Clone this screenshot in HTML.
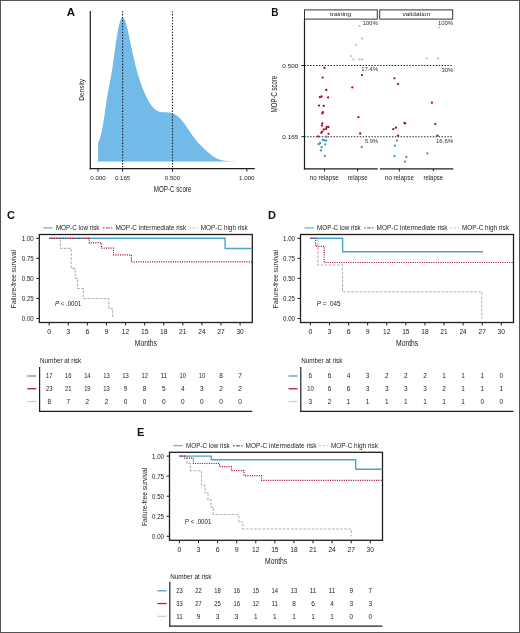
<!DOCTYPE html>
<html><head><meta charset="utf-8"><style>
html,body{margin:0;padding:0;background:#fff;}
body{width:520px;height:633px;overflow:hidden;position:relative;}
#frame{position:absolute;left:0;top:0;width:520px;height:633px;box-sizing:border-box;border:1px solid #545454;}
svg{display:block;font-family:"Liberation Sans", sans-serif;will-change:transform;filter:blur(0.35px);}
</style></head><body>
<svg width="520" height="633" viewBox="0 0 520 633">
<rect width="520" height="633" fill="#fff"/>
<text x="66.70" y="15.80" font-size="11" text-anchor="start" font-weight="bold" fill="#111" textLength="8.30" lengthAdjust="spacingAndGlyphs">A</text>
<path d="M98.1,161.5 L98.10,143.20 L98.60,141.99 L99.10,140.69 L99.60,139.26 L100.10,137.70 L100.60,135.97 L101.10,134.04 L101.60,131.91 L102.10,129.53 L102.60,126.92 L103.10,124.06 L103.60,120.97 L104.10,117.69 L104.60,114.27 L105.10,110.77 L105.60,107.27 L106.10,103.82 L106.60,100.49 L107.10,97.33 L107.60,94.34 L108.10,91.53 L108.60,88.86 L109.10,86.29 L109.60,83.75 L110.10,81.17 L110.60,78.51 L111.10,75.71 L111.60,72.75 L112.10,69.62 L112.60,66.32 L113.10,62.88 L113.60,59.33 L114.10,55.71 L114.60,52.07 L115.10,48.45 L115.60,44.89 L116.10,41.44 L116.60,38.13 L117.10,34.99 L117.60,32.05 L118.10,29.33 L118.60,26.86 L119.10,24.66 L119.60,22.73 L120.10,21.09 L120.60,19.75 L121.10,18.72 L121.60,17.98 L122.10,17.55 L122.60,17.42 L123.10,17.58 L123.60,18.02 L124.10,18.72 L124.60,19.67 L125.10,20.86 L125.60,22.26 L126.10,23.86 L126.60,25.63 L127.10,27.55 L127.60,29.60 L128.10,31.76 L128.60,34.01 L129.10,36.32 L129.60,38.69 L130.10,41.08 L130.60,43.49 L131.10,45.90 L131.60,48.29 L132.10,50.66 L132.60,52.99 L133.10,55.28 L133.60,57.52 L134.10,59.71 L134.60,61.84 L135.10,63.90 L135.60,65.90 L136.10,67.84 L136.60,69.72 L137.10,71.54 L137.60,73.29 L138.10,75.00 L138.60,76.64 L139.10,78.23 L139.60,79.78 L140.10,81.27 L140.60,82.73 L141.10,84.14 L141.60,85.51 L142.10,86.84 L142.60,88.14 L143.10,89.40 L143.60,90.62 L144.10,91.82 L144.60,92.98 L145.10,94.11 L145.60,95.20 L146.10,96.27 L146.60,97.30 L147.10,98.30 L147.60,99.26 L148.10,100.19 L148.60,101.09 L149.10,101.95 L149.60,102.78 L150.10,103.57 L150.60,104.32 L151.10,105.04 L151.60,105.72 L152.10,106.36 L152.60,106.97 L153.10,107.54 L153.60,108.07 L154.10,108.56 L154.60,109.02 L155.10,109.44 L155.60,109.83 L156.10,110.19 L156.60,110.51 L157.10,110.79 L157.60,111.05 L158.10,111.28 L158.60,111.48 L159.10,111.66 L159.60,111.81 L160.10,111.93 L160.60,112.04 L161.10,112.12 L161.60,112.19 L162.10,112.24 L162.60,112.28 L163.10,112.31 L163.60,112.33 L164.10,112.34 L164.60,112.35 L165.10,112.35 L165.60,112.35 L166.10,112.35 L166.60,112.35 L167.10,112.36 L167.60,112.38 L168.10,112.40 L168.60,112.43 L169.10,112.48 L169.60,112.54 L170.10,112.61 L170.60,112.70 L171.10,112.80 L171.60,112.93 L172.10,113.07 L172.60,113.23 L173.10,113.42 L173.60,113.63 L174.10,113.86 L174.60,114.11 L175.10,114.39 L175.60,114.69 L176.10,115.02 L176.60,115.37 L177.10,115.75 L177.60,116.15 L178.10,116.58 L178.60,117.03 L179.10,117.50 L179.60,118.00 L180.10,118.52 L180.60,119.06 L181.10,119.63 L181.60,120.21 L182.10,120.82 L182.60,121.44 L183.10,122.08 L183.60,122.73 L184.10,123.40 L184.60,124.09 L185.10,124.79 L185.60,125.49 L186.10,126.21 L186.60,126.94 L187.10,127.67 L187.60,128.40 L188.10,129.14 L188.60,129.88 L189.10,130.62 L189.60,131.36 L190.10,132.10 L190.60,132.83 L191.10,133.56 L191.60,134.28 L192.10,134.99 L192.60,135.69 L193.10,136.38 L193.60,137.06 L194.10,137.73 L194.60,138.39 L195.10,139.03 L195.60,139.66 L196.10,140.27 L196.60,140.88 L197.10,141.46 L197.60,142.04 L198.10,142.60 L198.60,143.16 L199.10,143.70 L199.60,144.23 L200.10,144.75 L200.60,145.26 L201.10,145.76 L201.60,146.26 L202.10,146.75 L202.60,147.23 L203.10,147.71 L203.60,148.19 L204.10,148.66 L204.60,149.13 L205.10,149.60 L205.60,150.06 L206.10,150.52 L206.60,150.98 L207.10,151.44 L207.60,151.89 L208.10,152.33 L208.60,152.77 L209.10,153.20 L209.60,153.63 L210.10,154.05 L210.60,154.46 L211.10,154.86 L211.60,155.25 L212.10,155.62 L212.60,155.99 L213.10,156.34 L213.60,156.68 L214.10,157.01 L214.60,157.32 L215.10,157.61 L215.60,157.89 L216.10,158.16 L216.60,158.41 L217.10,158.65 L217.60,158.87 L218.10,159.08 L218.60,159.27 L219.10,159.45 L219.60,159.62 L220.10,159.78 L220.60,159.92 L221.10,160.06 L221.60,160.18 L222.10,160.29 L222.60,160.40 L223.10,160.49 L223.60,160.58 L224.10,160.66 L224.60,160.73 L225.10,160.80 L225.60,160.86 L226.10,160.92 L226.60,160.97 L227.10,161.02 L227.60,161.06 L228.10,161.10 L228.60,161.13 L229.10,161.17 L229.60,161.20 L230.10,161.22 L230.60,161.25 L231.10,161.27 L231.60,161.29 L232.10,161.31 L232.60,161.33 L233.10,161.34 L233.60,161.36 L234.10,161.37 L234.60,161.38 L235.10,161.40 L235.60,161.40 L236.10,161.41 L236.60,161.42 L237.10,161.43 L237.60,161.44 L238.10,161.44 L238.60,161.45 L239.10,161.45 L239.60,161.46 L240.10,161.46 L240.60,161.47 L241.10,161.47 L241.60,161.47 L242.10,161.48 L242.60,161.48 L243.10,161.48 L243.60,161.48 L244.10,161.48 L244.60,161.49 L245.10,161.49 L245.60,161.49 L246.10,161.49 L246.60,161.49 L247.10,161.49 L247.30,161.49 L247.3,161.5 Z" fill="#72bae8" stroke="none"/>
<line x1="122.60" y1="11.20" x2="122.60" y2="168.00" stroke="#1a1a1a" stroke-width="1.1" stroke-dasharray="1.4 1.52"/>
<line x1="172.50" y1="11.20" x2="172.50" y2="168.00" stroke="#1a1a1a" stroke-width="1.1" stroke-dasharray="1.4 1.52"/>
<line x1="90.30" y1="11.00" x2="90.30" y2="169.30" stroke="#1e1e1e" stroke-width="1.2"/>
<line x1="89.70" y1="168.70" x2="254.80" y2="168.70" stroke="#1e1e1e" stroke-width="1.2"/>
<line x1="98.00" y1="168.70" x2="98.00" y2="171.70" stroke="#1e1e1e" stroke-width="1"/>
<text x="98.00" y="180.30" font-size="6.1" text-anchor="middle" font-weight="normal" fill="#222" textLength="15.40" lengthAdjust="spacingAndGlyphs">0.000</text>
<line x1="122.60" y1="168.70" x2="122.60" y2="171.70" stroke="#1e1e1e" stroke-width="1"/>
<text x="122.60" y="180.30" font-size="6.1" text-anchor="middle" font-weight="normal" fill="#222" textLength="15.40" lengthAdjust="spacingAndGlyphs">0.165</text>
<line x1="172.50" y1="168.70" x2="172.50" y2="171.70" stroke="#1e1e1e" stroke-width="1"/>
<text x="172.50" y="180.30" font-size="6.1" text-anchor="middle" font-weight="normal" fill="#222" textLength="15.40" lengthAdjust="spacingAndGlyphs">0.500</text>
<line x1="246.80" y1="168.70" x2="246.80" y2="171.70" stroke="#1e1e1e" stroke-width="1"/>
<text x="246.80" y="180.30" font-size="6.1" text-anchor="middle" font-weight="normal" fill="#222" textLength="15.40" lengthAdjust="spacingAndGlyphs">1.000</text>
<text x="172.60" y="192.00" font-size="8.2" text-anchor="middle" font-weight="normal" fill="#222" textLength="37.60" lengthAdjust="spacingAndGlyphs">MOP-C score</text>
<text x="83.90" y="89.90" font-size="7.3" text-anchor="middle" font-weight="normal" fill="#222" textLength="21.80" lengthAdjust="spacingAndGlyphs" transform="rotate(-90 83.90 89.90)">Density</text>
<text x="271.20" y="15.90" font-size="11" text-anchor="start" font-weight="bold" fill="#111" textLength="7.20" lengthAdjust="spacingAndGlyphs">B</text>
<rect x="304.5" y="9.9" width="72.8" height="9.2" fill="#fff" stroke="#333" stroke-width="1"/>
<rect x="379.7" y="9.9" width="73" height="9.2" fill="#fff" stroke="#333" stroke-width="1"/>
<text x="340.60" y="16.30" font-size="6.2" text-anchor="middle" font-weight="normal" fill="#222" textLength="21.20" lengthAdjust="spacingAndGlyphs">training</text>
<text x="416.30" y="16.30" font-size="6.2" text-anchor="middle" font-weight="normal" fill="#222" textLength="27.70" lengthAdjust="spacingAndGlyphs">validation</text>
<line x1="304.50" y1="19.00" x2="304.50" y2="169.40" stroke="#1e1e1e" stroke-width="1.2"/>
<line x1="303.90" y1="168.80" x2="377.70" y2="168.80" stroke="#1e1e1e" stroke-width="1.2"/>
<line x1="379.90" y1="168.80" x2="453.30" y2="168.80" stroke="#1e1e1e" stroke-width="1.2"/>
<line x1="324.50" y1="168.80" x2="324.50" y2="171.40" stroke="#1e1e1e" stroke-width="1"/>
<line x1="357.60" y1="168.80" x2="357.60" y2="171.40" stroke="#1e1e1e" stroke-width="1"/>
<line x1="399.40" y1="168.80" x2="399.40" y2="171.40" stroke="#1e1e1e" stroke-width="1"/>
<line x1="433.30" y1="168.80" x2="433.30" y2="171.40" stroke="#1e1e1e" stroke-width="1"/>
<text x="324.30" y="180.30" font-size="6.6" text-anchor="middle" font-weight="normal" fill="#222" textLength="28.90" lengthAdjust="spacingAndGlyphs">no relapse</text>
<text x="357.70" y="180.30" font-size="6.6" text-anchor="middle" font-weight="normal" fill="#222" textLength="19.80" lengthAdjust="spacingAndGlyphs">relapse</text>
<text x="399.40" y="180.30" font-size="6.6" text-anchor="middle" font-weight="normal" fill="#222" textLength="28.90" lengthAdjust="spacingAndGlyphs">no relapse</text>
<text x="433.30" y="180.30" font-size="6.6" text-anchor="middle" font-weight="normal" fill="#222" textLength="19.80" lengthAdjust="spacingAndGlyphs">relapse</text>
<line x1="301.40" y1="65.50" x2="304.50" y2="65.50" stroke="#1e1e1e" stroke-width="1"/>
<text x="298.30" y="67.70" font-size="6.1" text-anchor="end" font-weight="normal" fill="#222" textLength="16.00" lengthAdjust="spacingAndGlyphs">0.500</text>
<line x1="304.30" y1="65.50" x2="453.30" y2="65.50" stroke="#1a1a1a" stroke-width="1.1" stroke-dasharray="1.4 1.52"/>
<line x1="301.40" y1="136.70" x2="304.50" y2="136.70" stroke="#1e1e1e" stroke-width="1"/>
<text x="298.30" y="138.90" font-size="6.1" text-anchor="end" font-weight="normal" fill="#222" textLength="16.00" lengthAdjust="spacingAndGlyphs">0.165</text>
<line x1="304.30" y1="136.70" x2="453.30" y2="136.70" stroke="#1a1a1a" stroke-width="1.1" stroke-dasharray="1.4 1.52"/>
<text x="277.10" y="94.00" font-size="8.2" text-anchor="middle" font-weight="normal" fill="#222" textLength="36.30" lengthAdjust="spacingAndGlyphs" transform="rotate(-90 277.10 94.00)">MOP-C score</text>
<text x="377.80" y="25.00" font-size="5.9" text-anchor="end" font-weight="normal" fill="#333" textLength="15.40" lengthAdjust="spacingAndGlyphs">100%</text>
<text x="377.90" y="71.40" font-size="5.9" text-anchor="end" font-weight="normal" fill="#333" textLength="16.70" lengthAdjust="spacingAndGlyphs">17.4%</text>
<text x="378.00" y="142.60" font-size="5.9" text-anchor="end" font-weight="normal" fill="#333" textLength="13.00" lengthAdjust="spacingAndGlyphs">5.9%</text>
<text x="453.10" y="25.00" font-size="5.9" text-anchor="end" font-weight="normal" fill="#333" textLength="15.20" lengthAdjust="spacingAndGlyphs">100%</text>
<text x="453.20" y="71.60" font-size="5.9" text-anchor="end" font-weight="normal" fill="#333" textLength="11.80" lengthAdjust="spacingAndGlyphs">30%</text>
<text x="453.20" y="143.00" font-size="5.9" text-anchor="end" font-weight="normal" fill="#333" textLength="17.20" lengthAdjust="spacingAndGlyphs">16.6%</text>
<circle cx="359.5" cy="25.8" r="1.15" fill="#c2c2c2"/>
<circle cx="362.1" cy="38.5" r="1.15" fill="#c2c2c2"/>
<circle cx="355.8" cy="44.9" r="1.15" fill="#c2c2c2"/>
<circle cx="351.2" cy="56.1" r="1.15" fill="#c2c2c2"/>
<circle cx="353.3" cy="59.4" r="1.15" fill="#c2c2c2"/>
<circle cx="359.5" cy="59.3" r="1.15" fill="#c2c2c2"/>
<circle cx="362.1" cy="59.4" r="1.15" fill="#c2c2c2"/>
<circle cx="439.1" cy="27.3" r="1.15" fill="#c2c2c2"/>
<circle cx="426.9" cy="58.3" r="1.15" fill="#c2c2c2"/>
<circle cx="438.1" cy="58.7" r="1.15" fill="#c2c2c2"/>
<circle cx="324.5" cy="67.9" r="1.15" fill="#9e1029"/>
<circle cx="322.7" cy="77.6" r="1.15" fill="#9e1029"/>
<circle cx="362" cy="75.1" r="1.15" fill="#9e1029"/>
<circle cx="352.3" cy="87.4" r="1.15" fill="#9e1029"/>
<circle cx="326.3" cy="90" r="1.15" fill="#9e1029"/>
<circle cx="319.9" cy="97.2" r="1.15" fill="#9e1029"/>
<circle cx="321.6" cy="96.5" r="1.15" fill="#9e1029"/>
<circle cx="328.1" cy="97.5" r="1.15" fill="#9e1029"/>
<circle cx="319" cy="105.6" r="1.15" fill="#9e1029"/>
<circle cx="323.8" cy="105.9" r="1.15" fill="#9e1029"/>
<circle cx="322.3" cy="113.4" r="1.15" fill="#9e1029"/>
<circle cx="323" cy="112.2" r="1.15" fill="#9e1029"/>
<circle cx="322.3" cy="123.4" r="1.15" fill="#9e1029"/>
<circle cx="322" cy="125.6" r="1.15" fill="#9e1029"/>
<circle cx="326.6" cy="127" r="1.15" fill="#9e1029"/>
<circle cx="328.4" cy="127" r="1.15" fill="#9e1029"/>
<circle cx="323.8" cy="129.5" r="1.15" fill="#9e1029"/>
<circle cx="326.2" cy="129" r="1.15" fill="#9e1029"/>
<circle cx="322.3" cy="131.6" r="1.15" fill="#9e1029"/>
<circle cx="321.3" cy="132.8" r="1.15" fill="#9e1029"/>
<circle cx="328.5" cy="133.8" r="1.15" fill="#9e1029"/>
<circle cx="318.3" cy="136.4" r="1.15" fill="#9e1029"/>
<circle cx="358.4" cy="117.2" r="1.15" fill="#9e1029"/>
<circle cx="360.2" cy="133.5" r="1.15" fill="#9e1029"/>
<circle cx="394.4" cy="78.3" r="1.15" fill="#9e1029"/>
<circle cx="398" cy="84.1" r="1.15" fill="#9e1029"/>
<circle cx="431.9" cy="102.7" r="1.15" fill="#9e1029"/>
<circle cx="393.3" cy="129.2" r="1.15" fill="#9e1029"/>
<circle cx="395.9" cy="127.7" r="1.15" fill="#9e1029"/>
<circle cx="404.5" cy="123" r="1.15" fill="#9e1029"/>
<circle cx="405.2" cy="123.4" r="1.15" fill="#9e1029"/>
<circle cx="398" cy="135.7" r="1.15" fill="#9e1029"/>
<circle cx="435.2" cy="124.1" r="1.15" fill="#9e1029"/>
<circle cx="437.4" cy="135.7" r="1.15" fill="#9e1029"/>
<circle cx="326.3" cy="136.7" r="1.15" fill="#3596c6"/>
<circle cx="323" cy="140" r="1.15" fill="#3596c6"/>
<circle cx="324.5" cy="140.3" r="1.15" fill="#3596c6"/>
<circle cx="326.3" cy="140.6" r="1.15" fill="#3596c6"/>
<circle cx="320.1" cy="142.9" r="1.15" fill="#3596c6"/>
<circle cx="318.7" cy="144.2" r="1.15" fill="#3596c6"/>
<circle cx="325.2" cy="144.3" r="1.15" fill="#3596c6"/>
<circle cx="321.6" cy="147.2" r="1.15" fill="#3596c6"/>
<circle cx="320.9" cy="150.4" r="1.15" fill="#3596c6"/>
<circle cx="324.8" cy="155.9" r="1.15" fill="#3596c6"/>
<circle cx="361.7" cy="146.9" r="1.15" fill="#3596c6"/>
<circle cx="397" cy="140.6" r="1.15" fill="#3596c6"/>
<circle cx="394.9" cy="145.6" r="1.15" fill="#3596c6"/>
<circle cx="394.4" cy="156.2" r="1.15" fill="#3596c6"/>
<circle cx="406.4" cy="156.9" r="1.15" fill="#3596c6"/>
<circle cx="405" cy="161.6" r="1.15" fill="#3596c6"/>
<circle cx="427.3" cy="153.3" r="1.15" fill="#3596c6"/>
<text x="6.90" y="218.50" font-size="11" text-anchor="start" font-weight="bold" fill="#111">C</text>
<line x1="43.30" y1="227.90" x2="52.40" y2="227.90" stroke="#4aa3cf" stroke-width="1.1"/>
<text x="55.90" y="230.00" font-size="6.5" text-anchor="start" font-weight="normal" fill="#222" textLength="43.60" lengthAdjust="spacingAndGlyphs">MOP-C low risk</text>
<line x1="102.80" y1="227.90" x2="112.40" y2="227.90" stroke="#b06a70" stroke-width="1.4" stroke-dasharray="1.9 1.2 4 1 1.5 5"/>
<text x="115.40" y="230.00" font-size="6.5" text-anchor="start" font-weight="normal" fill="#222" textLength="70.90" lengthAdjust="spacingAndGlyphs">MOP-C intermediate risk</text>
<line x1="188.40" y1="227.90" x2="198.00" y2="227.90" stroke="#d2d2cc" stroke-width="1.3" stroke-dasharray="2.7 1.3"/>
<text x="200.80" y="230.00" font-size="6.5" text-anchor="start" font-weight="normal" fill="#222" textLength="46.90" lengthAdjust="spacingAndGlyphs">MOP-C high risk</text>
<rect x="39.30" y="234.50" width="213.00" height="88.00" fill="none" stroke="#1e1e1e" stroke-width="1.3"/>
<line x1="36.30" y1="238.30" x2="39.30" y2="238.30" stroke="#1e1e1e" stroke-width="1"/>
<text x="33.80" y="240.80" font-size="6.8" text-anchor="end" font-weight="normal" fill="#222" textLength="12.00" lengthAdjust="spacingAndGlyphs">1.00</text>
<line x1="36.30" y1="258.35" x2="39.30" y2="258.35" stroke="#1e1e1e" stroke-width="1"/>
<text x="33.80" y="260.85" font-size="6.8" text-anchor="end" font-weight="normal" fill="#222" textLength="12.00" lengthAdjust="spacingAndGlyphs">0.75</text>
<line x1="36.30" y1="278.40" x2="39.30" y2="278.40" stroke="#1e1e1e" stroke-width="1"/>
<text x="33.80" y="280.90" font-size="6.8" text-anchor="end" font-weight="normal" fill="#222" textLength="12.00" lengthAdjust="spacingAndGlyphs">0.50</text>
<line x1="36.30" y1="298.45" x2="39.30" y2="298.45" stroke="#1e1e1e" stroke-width="1"/>
<text x="33.80" y="300.95" font-size="6.8" text-anchor="end" font-weight="normal" fill="#222" textLength="12.00" lengthAdjust="spacingAndGlyphs">0.25</text>
<line x1="36.30" y1="318.50" x2="39.30" y2="318.50" stroke="#1e1e1e" stroke-width="1"/>
<text x="33.80" y="321.00" font-size="6.8" text-anchor="end" font-weight="normal" fill="#222" textLength="12.00" lengthAdjust="spacingAndGlyphs">0.00</text>
<line x1="49.20" y1="322.50" x2="49.20" y2="325.50" stroke="#1e1e1e" stroke-width="1"/>
<text x="49.20" y="334.20" font-size="7.0" text-anchor="middle" font-weight="normal" fill="#222" textLength="3.90" lengthAdjust="spacingAndGlyphs">0</text>
<line x1="68.29" y1="322.50" x2="68.29" y2="325.50" stroke="#1e1e1e" stroke-width="1"/>
<text x="68.29" y="334.20" font-size="7.0" text-anchor="middle" font-weight="normal" fill="#222" textLength="3.90" lengthAdjust="spacingAndGlyphs">3</text>
<line x1="87.38" y1="322.50" x2="87.38" y2="325.50" stroke="#1e1e1e" stroke-width="1"/>
<text x="87.38" y="334.20" font-size="7.0" text-anchor="middle" font-weight="normal" fill="#222" textLength="3.90" lengthAdjust="spacingAndGlyphs">6</text>
<line x1="106.47" y1="322.50" x2="106.47" y2="325.50" stroke="#1e1e1e" stroke-width="1"/>
<text x="106.47" y="334.20" font-size="7.0" text-anchor="middle" font-weight="normal" fill="#222" textLength="3.90" lengthAdjust="spacingAndGlyphs">9</text>
<line x1="125.56" y1="322.50" x2="125.56" y2="325.50" stroke="#1e1e1e" stroke-width="1"/>
<text x="125.56" y="334.20" font-size="7.0" text-anchor="middle" font-weight="normal" fill="#222" textLength="7.40" lengthAdjust="spacingAndGlyphs">12</text>
<line x1="144.65" y1="322.50" x2="144.65" y2="325.50" stroke="#1e1e1e" stroke-width="1"/>
<text x="144.65" y="334.20" font-size="7.0" text-anchor="middle" font-weight="normal" fill="#222" textLength="7.40" lengthAdjust="spacingAndGlyphs">15</text>
<line x1="163.73" y1="322.50" x2="163.73" y2="325.50" stroke="#1e1e1e" stroke-width="1"/>
<text x="163.73" y="334.20" font-size="7.0" text-anchor="middle" font-weight="normal" fill="#222" textLength="7.40" lengthAdjust="spacingAndGlyphs">18</text>
<line x1="182.82" y1="322.50" x2="182.82" y2="325.50" stroke="#1e1e1e" stroke-width="1"/>
<text x="182.82" y="334.20" font-size="7.0" text-anchor="middle" font-weight="normal" fill="#222" textLength="7.40" lengthAdjust="spacingAndGlyphs">21</text>
<line x1="201.91" y1="322.50" x2="201.91" y2="325.50" stroke="#1e1e1e" stroke-width="1"/>
<text x="201.91" y="334.20" font-size="7.0" text-anchor="middle" font-weight="normal" fill="#222" textLength="7.40" lengthAdjust="spacingAndGlyphs">24</text>
<line x1="221.00" y1="322.50" x2="221.00" y2="325.50" stroke="#1e1e1e" stroke-width="1"/>
<text x="221.00" y="334.20" font-size="7.0" text-anchor="middle" font-weight="normal" fill="#222" textLength="7.40" lengthAdjust="spacingAndGlyphs">27</text>
<line x1="240.09" y1="322.50" x2="240.09" y2="325.50" stroke="#1e1e1e" stroke-width="1"/>
<text x="240.09" y="334.20" font-size="7.0" text-anchor="middle" font-weight="normal" fill="#222" textLength="7.40" lengthAdjust="spacingAndGlyphs">30</text>
<text x="145.90" y="345.80" font-size="8.2" text-anchor="middle" font-weight="normal" fill="#222" textLength="22.20" lengthAdjust="spacingAndGlyphs">Months</text>
<text x="16.50" y="279.10" font-size="7.6" text-anchor="middle" font-weight="normal" fill="#222" textLength="58.10" lengthAdjust="spacingAndGlyphs" transform="rotate(-90 16.50 279.10)">Failure-free survival</text>
<text x="55.00" y="306.20" font-size="6.5" text-anchor="start" font-weight="normal" fill="#222" textLength="26.20" lengthAdjust="spacingAndGlyphs"><tspan font-style="italic">P</tspan> &lt; .0001</text>
<path d="M49.20,238.30 H60.40 V248.33 H71.20 V268.38 H75.20 V278.40 H77.60 V288.43 H83.30 V298.45 H108.80 V308.48 H112.60 V318.50 H112.60" fill="none" stroke="#b2b2b2" stroke-width="1.1" stroke-dasharray="2.7 1.4"/>
<path d="M49.20,238.30 H225.10 V248.50 H252.30" fill="none" stroke="#4aa3cf" stroke-width="1.4"/>
<path d="M49.20,238.30 H89.30 V242.80 H101.40 V248.20 H113.50 V254.90 H131.40 V261.90 H252.30" fill="none" stroke="#a8132f" stroke-width="1.2" stroke-dasharray="1.1 1.2"/>
<text x="40.00" y="362.60" font-size="6.4" text-anchor="start" font-weight="normal" fill="#222" textLength="41.20" lengthAdjust="spacingAndGlyphs">Number at risk</text>
<line x1="39.60" y1="367.00" x2="39.60" y2="411.80" stroke="#1e1e1e" stroke-width="1.2"/>
<line x1="39.00" y1="411.30" x2="252.20" y2="411.30" stroke="#1e1e1e" stroke-width="1.2"/>
<line x1="27.30" y1="376.00" x2="36.30" y2="376.00" stroke="#4f9cc4" stroke-width="1.3"/>
<text x="49.20" y="378.30" font-size="6.6" text-anchor="middle" font-weight="normal" fill="#222" textLength="6.50" lengthAdjust="spacingAndGlyphs">17</text>
<text x="68.29" y="378.30" font-size="6.6" text-anchor="middle" font-weight="normal" fill="#222" textLength="6.50" lengthAdjust="spacingAndGlyphs">16</text>
<text x="87.38" y="378.30" font-size="6.6" text-anchor="middle" font-weight="normal" fill="#222" textLength="6.50" lengthAdjust="spacingAndGlyphs">14</text>
<text x="106.47" y="378.30" font-size="6.6" text-anchor="middle" font-weight="normal" fill="#222" textLength="6.50" lengthAdjust="spacingAndGlyphs">13</text>
<text x="125.56" y="378.30" font-size="6.6" text-anchor="middle" font-weight="normal" fill="#222" textLength="6.50" lengthAdjust="spacingAndGlyphs">13</text>
<text x="144.65" y="378.30" font-size="6.6" text-anchor="middle" font-weight="normal" fill="#222" textLength="6.50" lengthAdjust="spacingAndGlyphs">12</text>
<text x="163.73" y="378.30" font-size="6.6" text-anchor="middle" font-weight="normal" fill="#222" textLength="6.50" lengthAdjust="spacingAndGlyphs">11</text>
<text x="182.82" y="378.30" font-size="6.6" text-anchor="middle" font-weight="normal" fill="#222" textLength="6.50" lengthAdjust="spacingAndGlyphs">10</text>
<text x="201.91" y="378.30" font-size="6.6" text-anchor="middle" font-weight="normal" fill="#222" textLength="6.50" lengthAdjust="spacingAndGlyphs">10</text>
<text x="221.00" y="378.30" font-size="6.6" text-anchor="middle" font-weight="normal" fill="#222" textLength="3.60" lengthAdjust="spacingAndGlyphs">8</text>
<text x="240.09" y="378.30" font-size="6.6" text-anchor="middle" font-weight="normal" fill="#222" textLength="3.60" lengthAdjust="spacingAndGlyphs">7</text>
<line x1="27.30" y1="388.75" x2="36.30" y2="388.75" stroke="#b8193a" stroke-width="1.3"/>
<text x="49.20" y="391.05" font-size="6.6" text-anchor="middle" font-weight="normal" fill="#222" textLength="6.50" lengthAdjust="spacingAndGlyphs">23</text>
<text x="68.29" y="391.05" font-size="6.6" text-anchor="middle" font-weight="normal" fill="#222" textLength="6.50" lengthAdjust="spacingAndGlyphs">21</text>
<text x="87.38" y="391.05" font-size="6.6" text-anchor="middle" font-weight="normal" fill="#222" textLength="6.50" lengthAdjust="spacingAndGlyphs">19</text>
<text x="106.47" y="391.05" font-size="6.6" text-anchor="middle" font-weight="normal" fill="#222" textLength="6.50" lengthAdjust="spacingAndGlyphs">13</text>
<text x="125.56" y="391.05" font-size="6.6" text-anchor="middle" font-weight="normal" fill="#222" textLength="3.60" lengthAdjust="spacingAndGlyphs">9</text>
<text x="144.65" y="391.05" font-size="6.6" text-anchor="middle" font-weight="normal" fill="#222" textLength="3.60" lengthAdjust="spacingAndGlyphs">8</text>
<text x="163.73" y="391.05" font-size="6.6" text-anchor="middle" font-weight="normal" fill="#222" textLength="3.60" lengthAdjust="spacingAndGlyphs">5</text>
<text x="182.82" y="391.05" font-size="6.6" text-anchor="middle" font-weight="normal" fill="#222" textLength="3.60" lengthAdjust="spacingAndGlyphs">4</text>
<text x="201.91" y="391.05" font-size="6.6" text-anchor="middle" font-weight="normal" fill="#222" textLength="3.60" lengthAdjust="spacingAndGlyphs">3</text>
<text x="221.00" y="391.05" font-size="6.6" text-anchor="middle" font-weight="normal" fill="#222" textLength="3.60" lengthAdjust="spacingAndGlyphs">2</text>
<text x="240.09" y="391.05" font-size="6.6" text-anchor="middle" font-weight="normal" fill="#222" textLength="3.60" lengthAdjust="spacingAndGlyphs">2</text>
<line x1="27.30" y1="401.50" x2="36.30" y2="401.50" stroke="#cccccc" stroke-width="1.3"/>
<text x="49.20" y="403.80" font-size="6.6" text-anchor="middle" font-weight="normal" fill="#222" textLength="3.60" lengthAdjust="spacingAndGlyphs">8</text>
<text x="68.29" y="403.80" font-size="6.6" text-anchor="middle" font-weight="normal" fill="#222" textLength="3.60" lengthAdjust="spacingAndGlyphs">7</text>
<text x="87.38" y="403.80" font-size="6.6" text-anchor="middle" font-weight="normal" fill="#222" textLength="3.60" lengthAdjust="spacingAndGlyphs">2</text>
<text x="106.47" y="403.80" font-size="6.6" text-anchor="middle" font-weight="normal" fill="#222" textLength="3.60" lengthAdjust="spacingAndGlyphs">2</text>
<text x="125.56" y="403.80" font-size="6.6" text-anchor="middle" font-weight="normal" fill="#222" textLength="3.60" lengthAdjust="spacingAndGlyphs">0</text>
<text x="144.65" y="403.80" font-size="6.6" text-anchor="middle" font-weight="normal" fill="#222" textLength="3.60" lengthAdjust="spacingAndGlyphs">0</text>
<text x="163.73" y="403.80" font-size="6.6" text-anchor="middle" font-weight="normal" fill="#222" textLength="3.60" lengthAdjust="spacingAndGlyphs">0</text>
<text x="182.82" y="403.80" font-size="6.6" text-anchor="middle" font-weight="normal" fill="#222" textLength="3.60" lengthAdjust="spacingAndGlyphs">0</text>
<text x="201.91" y="403.80" font-size="6.6" text-anchor="middle" font-weight="normal" fill="#222" textLength="3.60" lengthAdjust="spacingAndGlyphs">0</text>
<text x="221.00" y="403.80" font-size="6.6" text-anchor="middle" font-weight="normal" fill="#222" textLength="3.60" lengthAdjust="spacingAndGlyphs">0</text>
<text x="240.09" y="403.80" font-size="6.6" text-anchor="middle" font-weight="normal" fill="#222" textLength="3.60" lengthAdjust="spacingAndGlyphs">0</text>
<text x="268.10" y="218.50" font-size="11" text-anchor="start" font-weight="bold" fill="#111">D</text>
<line x1="304.50" y1="227.90" x2="313.60" y2="227.90" stroke="#4aa3cf" stroke-width="1.1"/>
<text x="317.10" y="230.00" font-size="6.5" text-anchor="start" font-weight="normal" fill="#222" textLength="43.60" lengthAdjust="spacingAndGlyphs">MOP-C low risk</text>
<line x1="364.00" y1="227.90" x2="373.60" y2="227.90" stroke="#b06a70" stroke-width="1.4" stroke-dasharray="1.9 1.2 4 1 1.5 5"/>
<text x="376.60" y="230.00" font-size="6.5" text-anchor="start" font-weight="normal" fill="#222" textLength="70.90" lengthAdjust="spacingAndGlyphs">MOP-C intermediate risk</text>
<line x1="449.60" y1="227.90" x2="459.20" y2="227.90" stroke="#d2d2cc" stroke-width="1.3" stroke-dasharray="2.7 1.3"/>
<text x="462.00" y="230.00" font-size="6.5" text-anchor="start" font-weight="normal" fill="#222" textLength="46.90" lengthAdjust="spacingAndGlyphs">MOP-C high risk</text>
<rect x="300.50" y="234.50" width="213.00" height="88.00" fill="none" stroke="#1e1e1e" stroke-width="1.3"/>
<line x1="297.50" y1="238.30" x2="300.50" y2="238.30" stroke="#1e1e1e" stroke-width="1"/>
<text x="295.00" y="240.80" font-size="6.8" text-anchor="end" font-weight="normal" fill="#222" textLength="12.00" lengthAdjust="spacingAndGlyphs">1.00</text>
<line x1="297.50" y1="258.35" x2="300.50" y2="258.35" stroke="#1e1e1e" stroke-width="1"/>
<text x="295.00" y="260.85" font-size="6.8" text-anchor="end" font-weight="normal" fill="#222" textLength="12.00" lengthAdjust="spacingAndGlyphs">0.75</text>
<line x1="297.50" y1="278.40" x2="300.50" y2="278.40" stroke="#1e1e1e" stroke-width="1"/>
<text x="295.00" y="280.90" font-size="6.8" text-anchor="end" font-weight="normal" fill="#222" textLength="12.00" lengthAdjust="spacingAndGlyphs">0.50</text>
<line x1="297.50" y1="298.45" x2="300.50" y2="298.45" stroke="#1e1e1e" stroke-width="1"/>
<text x="295.00" y="300.95" font-size="6.8" text-anchor="end" font-weight="normal" fill="#222" textLength="12.00" lengthAdjust="spacingAndGlyphs">0.25</text>
<line x1="297.50" y1="318.50" x2="300.50" y2="318.50" stroke="#1e1e1e" stroke-width="1"/>
<text x="295.00" y="321.00" font-size="6.8" text-anchor="end" font-weight="normal" fill="#222" textLength="12.00" lengthAdjust="spacingAndGlyphs">0.00</text>
<line x1="310.40" y1="322.50" x2="310.40" y2="325.50" stroke="#1e1e1e" stroke-width="1"/>
<text x="310.40" y="334.20" font-size="7.0" text-anchor="middle" font-weight="normal" fill="#222" textLength="3.90" lengthAdjust="spacingAndGlyphs">0</text>
<line x1="329.49" y1="322.50" x2="329.49" y2="325.50" stroke="#1e1e1e" stroke-width="1"/>
<text x="329.49" y="334.20" font-size="7.0" text-anchor="middle" font-weight="normal" fill="#222" textLength="3.90" lengthAdjust="spacingAndGlyphs">3</text>
<line x1="348.58" y1="322.50" x2="348.58" y2="325.50" stroke="#1e1e1e" stroke-width="1"/>
<text x="348.58" y="334.20" font-size="7.0" text-anchor="middle" font-weight="normal" fill="#222" textLength="3.90" lengthAdjust="spacingAndGlyphs">6</text>
<line x1="367.67" y1="322.50" x2="367.67" y2="325.50" stroke="#1e1e1e" stroke-width="1"/>
<text x="367.67" y="334.20" font-size="7.0" text-anchor="middle" font-weight="normal" fill="#222" textLength="3.90" lengthAdjust="spacingAndGlyphs">9</text>
<line x1="386.76" y1="322.50" x2="386.76" y2="325.50" stroke="#1e1e1e" stroke-width="1"/>
<text x="386.76" y="334.20" font-size="7.0" text-anchor="middle" font-weight="normal" fill="#222" textLength="7.40" lengthAdjust="spacingAndGlyphs">12</text>
<line x1="405.84" y1="322.50" x2="405.84" y2="325.50" stroke="#1e1e1e" stroke-width="1"/>
<text x="405.84" y="334.20" font-size="7.0" text-anchor="middle" font-weight="normal" fill="#222" textLength="7.40" lengthAdjust="spacingAndGlyphs">15</text>
<line x1="424.93" y1="322.50" x2="424.93" y2="325.50" stroke="#1e1e1e" stroke-width="1"/>
<text x="424.93" y="334.20" font-size="7.0" text-anchor="middle" font-weight="normal" fill="#222" textLength="7.40" lengthAdjust="spacingAndGlyphs">18</text>
<line x1="444.02" y1="322.50" x2="444.02" y2="325.50" stroke="#1e1e1e" stroke-width="1"/>
<text x="444.02" y="334.20" font-size="7.0" text-anchor="middle" font-weight="normal" fill="#222" textLength="7.40" lengthAdjust="spacingAndGlyphs">21</text>
<line x1="463.11" y1="322.50" x2="463.11" y2="325.50" stroke="#1e1e1e" stroke-width="1"/>
<text x="463.11" y="334.20" font-size="7.0" text-anchor="middle" font-weight="normal" fill="#222" textLength="7.40" lengthAdjust="spacingAndGlyphs">24</text>
<line x1="482.20" y1="322.50" x2="482.20" y2="325.50" stroke="#1e1e1e" stroke-width="1"/>
<text x="482.20" y="334.20" font-size="7.0" text-anchor="middle" font-weight="normal" fill="#222" textLength="7.40" lengthAdjust="spacingAndGlyphs">27</text>
<line x1="501.29" y1="322.50" x2="501.29" y2="325.50" stroke="#1e1e1e" stroke-width="1"/>
<text x="501.29" y="334.20" font-size="7.0" text-anchor="middle" font-weight="normal" fill="#222" textLength="7.40" lengthAdjust="spacingAndGlyphs">30</text>
<text x="407.10" y="345.80" font-size="8.2" text-anchor="middle" font-weight="normal" fill="#222" textLength="22.20" lengthAdjust="spacingAndGlyphs">Months</text>
<text x="277.70" y="279.10" font-size="7.6" text-anchor="middle" font-weight="normal" fill="#222" textLength="58.10" lengthAdjust="spacingAndGlyphs" transform="rotate(-90 277.70 279.10)">Failure-free survival</text>
<text x="316.80" y="306.20" font-size="6.5" text-anchor="start" font-weight="normal" fill="#222" textLength="23.60" lengthAdjust="spacingAndGlyphs"><tspan font-style="italic">P</tspan> = .045</text>
<path d="M310.40,238.30 H317.90 V265.03 H342.50 V291.77 H481.80 V318.50 H481.80" fill="none" stroke="#b2b2b2" stroke-width="1.1" stroke-dasharray="2.7 1.4"/>
<path d="M310.40,238.30 H342.60 V251.80 H483.10" fill="none" stroke="#4aa3cf" stroke-width="1.4"/>
<path d="M310.40,238.30 H315.60 V246.40 H324.20 V262.50 H513.50" fill="none" stroke="#a8132f" stroke-width="1.2" stroke-dasharray="1.1 1.2"/>
<text x="301.20" y="362.60" font-size="6.4" text-anchor="start" font-weight="normal" fill="#222" textLength="41.20" lengthAdjust="spacingAndGlyphs">Number at risk</text>
<line x1="300.80" y1="367.00" x2="300.80" y2="411.80" stroke="#1e1e1e" stroke-width="1.2"/>
<line x1="300.20" y1="411.30" x2="513.40" y2="411.30" stroke="#1e1e1e" stroke-width="1.2"/>
<line x1="288.50" y1="376.00" x2="297.50" y2="376.00" stroke="#4f9cc4" stroke-width="1.3"/>
<text x="310.40" y="378.30" font-size="6.6" text-anchor="middle" font-weight="normal" fill="#222" textLength="3.60" lengthAdjust="spacingAndGlyphs">6</text>
<text x="329.49" y="378.30" font-size="6.6" text-anchor="middle" font-weight="normal" fill="#222" textLength="3.60" lengthAdjust="spacingAndGlyphs">6</text>
<text x="348.58" y="378.30" font-size="6.6" text-anchor="middle" font-weight="normal" fill="#222" textLength="3.60" lengthAdjust="spacingAndGlyphs">4</text>
<text x="367.67" y="378.30" font-size="6.6" text-anchor="middle" font-weight="normal" fill="#222" textLength="3.60" lengthAdjust="spacingAndGlyphs">3</text>
<text x="386.76" y="378.30" font-size="6.6" text-anchor="middle" font-weight="normal" fill="#222" textLength="3.60" lengthAdjust="spacingAndGlyphs">2</text>
<text x="405.84" y="378.30" font-size="6.6" text-anchor="middle" font-weight="normal" fill="#222" textLength="3.60" lengthAdjust="spacingAndGlyphs">2</text>
<text x="424.93" y="378.30" font-size="6.6" text-anchor="middle" font-weight="normal" fill="#222" textLength="3.60" lengthAdjust="spacingAndGlyphs">2</text>
<text x="444.02" y="378.30" font-size="6.6" text-anchor="middle" font-weight="normal" fill="#222" textLength="3.60" lengthAdjust="spacingAndGlyphs">1</text>
<text x="463.11" y="378.30" font-size="6.6" text-anchor="middle" font-weight="normal" fill="#222" textLength="3.60" lengthAdjust="spacingAndGlyphs">1</text>
<text x="482.20" y="378.30" font-size="6.6" text-anchor="middle" font-weight="normal" fill="#222" textLength="3.60" lengthAdjust="spacingAndGlyphs">1</text>
<text x="501.29" y="378.30" font-size="6.6" text-anchor="middle" font-weight="normal" fill="#222" textLength="3.60" lengthAdjust="spacingAndGlyphs">0</text>
<line x1="288.50" y1="388.75" x2="297.50" y2="388.75" stroke="#b8193a" stroke-width="1.3"/>
<text x="310.40" y="391.05" font-size="6.6" text-anchor="middle" font-weight="normal" fill="#222" textLength="6.50" lengthAdjust="spacingAndGlyphs">10</text>
<text x="329.49" y="391.05" font-size="6.6" text-anchor="middle" font-weight="normal" fill="#222" textLength="3.60" lengthAdjust="spacingAndGlyphs">6</text>
<text x="348.58" y="391.05" font-size="6.6" text-anchor="middle" font-weight="normal" fill="#222" textLength="3.60" lengthAdjust="spacingAndGlyphs">6</text>
<text x="367.67" y="391.05" font-size="6.6" text-anchor="middle" font-weight="normal" fill="#222" textLength="3.60" lengthAdjust="spacingAndGlyphs">3</text>
<text x="386.76" y="391.05" font-size="6.6" text-anchor="middle" font-weight="normal" fill="#222" textLength="3.60" lengthAdjust="spacingAndGlyphs">3</text>
<text x="405.84" y="391.05" font-size="6.6" text-anchor="middle" font-weight="normal" fill="#222" textLength="3.60" lengthAdjust="spacingAndGlyphs">3</text>
<text x="424.93" y="391.05" font-size="6.6" text-anchor="middle" font-weight="normal" fill="#222" textLength="3.60" lengthAdjust="spacingAndGlyphs">3</text>
<text x="444.02" y="391.05" font-size="6.6" text-anchor="middle" font-weight="normal" fill="#222" textLength="3.60" lengthAdjust="spacingAndGlyphs">2</text>
<text x="463.11" y="391.05" font-size="6.6" text-anchor="middle" font-weight="normal" fill="#222" textLength="3.60" lengthAdjust="spacingAndGlyphs">1</text>
<text x="482.20" y="391.05" font-size="6.6" text-anchor="middle" font-weight="normal" fill="#222" textLength="3.60" lengthAdjust="spacingAndGlyphs">1</text>
<text x="501.29" y="391.05" font-size="6.6" text-anchor="middle" font-weight="normal" fill="#222" textLength="3.60" lengthAdjust="spacingAndGlyphs">1</text>
<line x1="288.50" y1="401.50" x2="297.50" y2="401.50" stroke="#cccccc" stroke-width="1.3"/>
<text x="310.40" y="403.80" font-size="6.6" text-anchor="middle" font-weight="normal" fill="#222" textLength="3.60" lengthAdjust="spacingAndGlyphs">3</text>
<text x="329.49" y="403.80" font-size="6.6" text-anchor="middle" font-weight="normal" fill="#222" textLength="3.60" lengthAdjust="spacingAndGlyphs">2</text>
<text x="348.58" y="403.80" font-size="6.6" text-anchor="middle" font-weight="normal" fill="#222" textLength="3.60" lengthAdjust="spacingAndGlyphs">1</text>
<text x="367.67" y="403.80" font-size="6.6" text-anchor="middle" font-weight="normal" fill="#222" textLength="3.60" lengthAdjust="spacingAndGlyphs">1</text>
<text x="386.76" y="403.80" font-size="6.6" text-anchor="middle" font-weight="normal" fill="#222" textLength="3.60" lengthAdjust="spacingAndGlyphs">1</text>
<text x="405.84" y="403.80" font-size="6.6" text-anchor="middle" font-weight="normal" fill="#222" textLength="3.60" lengthAdjust="spacingAndGlyphs">1</text>
<text x="424.93" y="403.80" font-size="6.6" text-anchor="middle" font-weight="normal" fill="#222" textLength="3.60" lengthAdjust="spacingAndGlyphs">1</text>
<text x="444.02" y="403.80" font-size="6.6" text-anchor="middle" font-weight="normal" fill="#222" textLength="3.60" lengthAdjust="spacingAndGlyphs">1</text>
<text x="463.11" y="403.80" font-size="6.6" text-anchor="middle" font-weight="normal" fill="#222" textLength="3.60" lengthAdjust="spacingAndGlyphs">1</text>
<text x="482.20" y="403.80" font-size="6.6" text-anchor="middle" font-weight="normal" fill="#222" textLength="3.60" lengthAdjust="spacingAndGlyphs">0</text>
<text x="501.29" y="403.80" font-size="6.6" text-anchor="middle" font-weight="normal" fill="#222" textLength="3.60" lengthAdjust="spacingAndGlyphs">0</text>
<text x="137.10" y="436.30" font-size="11" text-anchor="start" font-weight="bold" fill="#111">E</text>
<line x1="173.50" y1="445.70" x2="182.60" y2="445.70" stroke="#4aa3cf" stroke-width="1.1"/>
<text x="186.10" y="447.80" font-size="6.5" text-anchor="start" font-weight="normal" fill="#222" textLength="43.60" lengthAdjust="spacingAndGlyphs">MOP-C low risk</text>
<line x1="233.00" y1="445.70" x2="242.60" y2="445.70" stroke="#b06a70" stroke-width="1.4" stroke-dasharray="1.9 1.2 4 1 1.5 5"/>
<text x="245.60" y="447.80" font-size="6.5" text-anchor="start" font-weight="normal" fill="#222" textLength="70.90" lengthAdjust="spacingAndGlyphs">MOP-C intermediate risk</text>
<line x1="318.60" y1="445.70" x2="328.20" y2="445.70" stroke="#d2d2cc" stroke-width="1.3" stroke-dasharray="2.7 1.3"/>
<text x="331.00" y="447.80" font-size="6.5" text-anchor="start" font-weight="normal" fill="#222" textLength="46.90" lengthAdjust="spacingAndGlyphs">MOP-C high risk</text>
<rect x="169.50" y="452.30" width="213.00" height="88.00" fill="none" stroke="#1e1e1e" stroke-width="1.3"/>
<line x1="166.50" y1="456.10" x2="169.50" y2="456.10" stroke="#1e1e1e" stroke-width="1"/>
<text x="164.00" y="458.60" font-size="6.8" text-anchor="end" font-weight="normal" fill="#222" textLength="12.00" lengthAdjust="spacingAndGlyphs">1.00</text>
<line x1="166.50" y1="476.15" x2="169.50" y2="476.15" stroke="#1e1e1e" stroke-width="1"/>
<text x="164.00" y="478.65" font-size="6.8" text-anchor="end" font-weight="normal" fill="#222" textLength="12.00" lengthAdjust="spacingAndGlyphs">0.75</text>
<line x1="166.50" y1="496.20" x2="169.50" y2="496.20" stroke="#1e1e1e" stroke-width="1"/>
<text x="164.00" y="498.70" font-size="6.8" text-anchor="end" font-weight="normal" fill="#222" textLength="12.00" lengthAdjust="spacingAndGlyphs">0.50</text>
<line x1="166.50" y1="516.25" x2="169.50" y2="516.25" stroke="#1e1e1e" stroke-width="1"/>
<text x="164.00" y="518.75" font-size="6.8" text-anchor="end" font-weight="normal" fill="#222" textLength="12.00" lengthAdjust="spacingAndGlyphs">0.25</text>
<line x1="166.50" y1="536.30" x2="169.50" y2="536.30" stroke="#1e1e1e" stroke-width="1"/>
<text x="164.00" y="538.80" font-size="6.8" text-anchor="end" font-weight="normal" fill="#222" textLength="12.00" lengthAdjust="spacingAndGlyphs">0.00</text>
<line x1="179.40" y1="540.30" x2="179.40" y2="543.30" stroke="#1e1e1e" stroke-width="1"/>
<text x="179.40" y="552.00" font-size="7.0" text-anchor="middle" font-weight="normal" fill="#222" textLength="3.90" lengthAdjust="spacingAndGlyphs">0</text>
<line x1="198.49" y1="540.30" x2="198.49" y2="543.30" stroke="#1e1e1e" stroke-width="1"/>
<text x="198.49" y="552.00" font-size="7.0" text-anchor="middle" font-weight="normal" fill="#222" textLength="3.90" lengthAdjust="spacingAndGlyphs">3</text>
<line x1="217.58" y1="540.30" x2="217.58" y2="543.30" stroke="#1e1e1e" stroke-width="1"/>
<text x="217.58" y="552.00" font-size="7.0" text-anchor="middle" font-weight="normal" fill="#222" textLength="3.90" lengthAdjust="spacingAndGlyphs">6</text>
<line x1="236.67" y1="540.30" x2="236.67" y2="543.30" stroke="#1e1e1e" stroke-width="1"/>
<text x="236.67" y="552.00" font-size="7.0" text-anchor="middle" font-weight="normal" fill="#222" textLength="3.90" lengthAdjust="spacingAndGlyphs">9</text>
<line x1="255.76" y1="540.30" x2="255.76" y2="543.30" stroke="#1e1e1e" stroke-width="1"/>
<text x="255.76" y="552.00" font-size="7.0" text-anchor="middle" font-weight="normal" fill="#222" textLength="7.40" lengthAdjust="spacingAndGlyphs">12</text>
<line x1="274.84" y1="540.30" x2="274.84" y2="543.30" stroke="#1e1e1e" stroke-width="1"/>
<text x="274.84" y="552.00" font-size="7.0" text-anchor="middle" font-weight="normal" fill="#222" textLength="7.40" lengthAdjust="spacingAndGlyphs">15</text>
<line x1="293.93" y1="540.30" x2="293.93" y2="543.30" stroke="#1e1e1e" stroke-width="1"/>
<text x="293.93" y="552.00" font-size="7.0" text-anchor="middle" font-weight="normal" fill="#222" textLength="7.40" lengthAdjust="spacingAndGlyphs">18</text>
<line x1="313.02" y1="540.30" x2="313.02" y2="543.30" stroke="#1e1e1e" stroke-width="1"/>
<text x="313.02" y="552.00" font-size="7.0" text-anchor="middle" font-weight="normal" fill="#222" textLength="7.40" lengthAdjust="spacingAndGlyphs">21</text>
<line x1="332.11" y1="540.30" x2="332.11" y2="543.30" stroke="#1e1e1e" stroke-width="1"/>
<text x="332.11" y="552.00" font-size="7.0" text-anchor="middle" font-weight="normal" fill="#222" textLength="7.40" lengthAdjust="spacingAndGlyphs">24</text>
<line x1="351.20" y1="540.30" x2="351.20" y2="543.30" stroke="#1e1e1e" stroke-width="1"/>
<text x="351.20" y="552.00" font-size="7.0" text-anchor="middle" font-weight="normal" fill="#222" textLength="7.40" lengthAdjust="spacingAndGlyphs">27</text>
<line x1="370.29" y1="540.30" x2="370.29" y2="543.30" stroke="#1e1e1e" stroke-width="1"/>
<text x="370.29" y="552.00" font-size="7.0" text-anchor="middle" font-weight="normal" fill="#222" textLength="7.40" lengthAdjust="spacingAndGlyphs">30</text>
<text x="276.10" y="563.60" font-size="8.2" text-anchor="middle" font-weight="normal" fill="#222" textLength="22.20" lengthAdjust="spacingAndGlyphs">Months</text>
<text x="146.70" y="496.90" font-size="7.6" text-anchor="middle" font-weight="normal" fill="#222" textLength="58.10" lengthAdjust="spacingAndGlyphs" transform="rotate(-90 146.70 496.90)">Failure-free survival</text>
<text x="185.00" y="524.00" font-size="6.5" text-anchor="start" font-weight="normal" fill="#222" textLength="26.30" lengthAdjust="spacingAndGlyphs">P &lt; .0001</text>
<path d="M179.40,456.10 H187.00 V463.39 H190.30 V470.68 H201.50 V485.26 H205.10 V492.55 H208.00 V499.85 H210.90 V507.14 H213.30 V514.43 H238.80 V521.72 H242.80 V529.01 H351.20 V536.30 H351.20" fill="none" stroke="#b2b2b2" stroke-width="1.1" stroke-dasharray="2.7 1.4"/>
<path d="M179.40,456.10 H211.40 V459.70 H355.70 V469.20 H382.50" fill="none" stroke="#4aa3cf" stroke-width="1.4"/>
<path d="M179.40,456.10 H184.50 V458.20 H193.40 V463.50 H219.50 V466.60 H231.50 V470.70 H244.00 V475.60 H261.60 V480.30 H382.50" fill="none" stroke="#a8132f" stroke-width="1.2" stroke-dasharray="1.1 1.2"/>
<text x="170.20" y="578.60" font-size="6.4" text-anchor="start" font-weight="normal" fill="#222" textLength="41.20" lengthAdjust="spacingAndGlyphs">Number at risk</text>
<line x1="169.80" y1="581.80" x2="169.80" y2="626.60" stroke="#1e1e1e" stroke-width="1.2"/>
<line x1="169.20" y1="626.10" x2="382.40" y2="626.10" stroke="#1e1e1e" stroke-width="1.2"/>
<line x1="157.50" y1="590.80" x2="166.50" y2="590.80" stroke="#4f9cc4" stroke-width="1.3"/>
<text x="179.40" y="593.10" font-size="6.6" text-anchor="middle" font-weight="normal" fill="#222" textLength="6.50" lengthAdjust="spacingAndGlyphs">23</text>
<text x="198.49" y="593.10" font-size="6.6" text-anchor="middle" font-weight="normal" fill="#222" textLength="6.50" lengthAdjust="spacingAndGlyphs">22</text>
<text x="217.58" y="593.10" font-size="6.6" text-anchor="middle" font-weight="normal" fill="#222" textLength="6.50" lengthAdjust="spacingAndGlyphs">18</text>
<text x="236.67" y="593.10" font-size="6.6" text-anchor="middle" font-weight="normal" fill="#222" textLength="6.50" lengthAdjust="spacingAndGlyphs">16</text>
<text x="255.76" y="593.10" font-size="6.6" text-anchor="middle" font-weight="normal" fill="#222" textLength="6.50" lengthAdjust="spacingAndGlyphs">15</text>
<text x="274.84" y="593.10" font-size="6.6" text-anchor="middle" font-weight="normal" fill="#222" textLength="6.50" lengthAdjust="spacingAndGlyphs">14</text>
<text x="293.93" y="593.10" font-size="6.6" text-anchor="middle" font-weight="normal" fill="#222" textLength="6.50" lengthAdjust="spacingAndGlyphs">13</text>
<text x="313.02" y="593.10" font-size="6.6" text-anchor="middle" font-weight="normal" fill="#222" textLength="6.50" lengthAdjust="spacingAndGlyphs">11</text>
<text x="332.11" y="593.10" font-size="6.6" text-anchor="middle" font-weight="normal" fill="#222" textLength="6.50" lengthAdjust="spacingAndGlyphs">11</text>
<text x="351.20" y="593.10" font-size="6.6" text-anchor="middle" font-weight="normal" fill="#222" textLength="3.60" lengthAdjust="spacingAndGlyphs">9</text>
<text x="370.29" y="593.10" font-size="6.6" text-anchor="middle" font-weight="normal" fill="#222" textLength="3.60" lengthAdjust="spacingAndGlyphs">7</text>
<line x1="157.50" y1="603.55" x2="166.50" y2="603.55" stroke="#b8193a" stroke-width="1.3"/>
<text x="179.40" y="605.85" font-size="6.6" text-anchor="middle" font-weight="normal" fill="#222" textLength="6.50" lengthAdjust="spacingAndGlyphs">33</text>
<text x="198.49" y="605.85" font-size="6.6" text-anchor="middle" font-weight="normal" fill="#222" textLength="6.50" lengthAdjust="spacingAndGlyphs">27</text>
<text x="217.58" y="605.85" font-size="6.6" text-anchor="middle" font-weight="normal" fill="#222" textLength="6.50" lengthAdjust="spacingAndGlyphs">25</text>
<text x="236.67" y="605.85" font-size="6.6" text-anchor="middle" font-weight="normal" fill="#222" textLength="6.50" lengthAdjust="spacingAndGlyphs">16</text>
<text x="255.76" y="605.85" font-size="6.6" text-anchor="middle" font-weight="normal" fill="#222" textLength="6.50" lengthAdjust="spacingAndGlyphs">12</text>
<text x="274.84" y="605.85" font-size="6.6" text-anchor="middle" font-weight="normal" fill="#222" textLength="6.50" lengthAdjust="spacingAndGlyphs">11</text>
<text x="293.93" y="605.85" font-size="6.6" text-anchor="middle" font-weight="normal" fill="#222" textLength="3.60" lengthAdjust="spacingAndGlyphs">8</text>
<text x="313.02" y="605.85" font-size="6.6" text-anchor="middle" font-weight="normal" fill="#222" textLength="3.60" lengthAdjust="spacingAndGlyphs">6</text>
<text x="332.11" y="605.85" font-size="6.6" text-anchor="middle" font-weight="normal" fill="#222" textLength="3.60" lengthAdjust="spacingAndGlyphs">4</text>
<text x="351.20" y="605.85" font-size="6.6" text-anchor="middle" font-weight="normal" fill="#222" textLength="3.60" lengthAdjust="spacingAndGlyphs">3</text>
<text x="370.29" y="605.85" font-size="6.6" text-anchor="middle" font-weight="normal" fill="#222" textLength="3.60" lengthAdjust="spacingAndGlyphs">3</text>
<line x1="157.50" y1="616.30" x2="166.50" y2="616.30" stroke="#cccccc" stroke-width="1.3"/>
<text x="179.40" y="618.60" font-size="6.6" text-anchor="middle" font-weight="normal" fill="#222" textLength="6.50" lengthAdjust="spacingAndGlyphs">11</text>
<text x="198.49" y="618.60" font-size="6.6" text-anchor="middle" font-weight="normal" fill="#222" textLength="3.60" lengthAdjust="spacingAndGlyphs">9</text>
<text x="217.58" y="618.60" font-size="6.6" text-anchor="middle" font-weight="normal" fill="#222" textLength="3.60" lengthAdjust="spacingAndGlyphs">3</text>
<text x="236.67" y="618.60" font-size="6.6" text-anchor="middle" font-weight="normal" fill="#222" textLength="3.60" lengthAdjust="spacingAndGlyphs">3</text>
<text x="255.76" y="618.60" font-size="6.6" text-anchor="middle" font-weight="normal" fill="#222" textLength="3.60" lengthAdjust="spacingAndGlyphs">1</text>
<text x="274.84" y="618.60" font-size="6.6" text-anchor="middle" font-weight="normal" fill="#222" textLength="3.60" lengthAdjust="spacingAndGlyphs">1</text>
<text x="293.93" y="618.60" font-size="6.6" text-anchor="middle" font-weight="normal" fill="#222" textLength="3.60" lengthAdjust="spacingAndGlyphs">1</text>
<text x="313.02" y="618.60" font-size="6.6" text-anchor="middle" font-weight="normal" fill="#222" textLength="3.60" lengthAdjust="spacingAndGlyphs">1</text>
<text x="332.11" y="618.60" font-size="6.6" text-anchor="middle" font-weight="normal" fill="#222" textLength="3.60" lengthAdjust="spacingAndGlyphs">1</text>
<text x="351.20" y="618.60" font-size="6.6" text-anchor="middle" font-weight="normal" fill="#222" textLength="3.60" lengthAdjust="spacingAndGlyphs">0</text>
<text x="370.29" y="618.60" font-size="6.6" text-anchor="middle" font-weight="normal" fill="#222" textLength="3.60" lengthAdjust="spacingAndGlyphs">0</text>
</svg>
<div id="frame"></div>
</body></html>
